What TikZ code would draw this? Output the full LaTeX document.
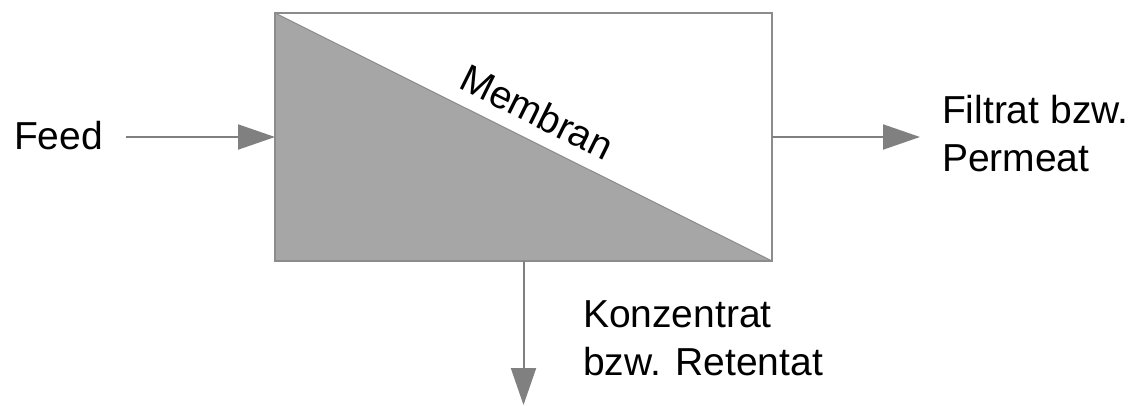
\documentclass[tikz,border=0pt]{standalone}
\usepackage{fontspec}
\setmainfont{Liberation Sans}
\usetikzlibrary{arrows.meta}
\definecolor{memfill}{HTML}{A6A6A6}
\definecolor{memline}{HTML}{8C8C8C}
\definecolor{arrcol}{HTML}{808080}
\begin{document}
\begin{tikzpicture}[x=1pt,y=-1pt,
  lbl/.style={inner sep=0pt, outer sep=0pt, align=left, font=\fontsize{39}{48}\selectfont},
  flow/.style={draw=memline, line width=2pt, -{Triangle[length=37pt,width=25pt,fill=arrcol]}, arrcol}]
\useasboundingbox (0,0) rectangle (1137,405);
\node[minimum width=497pt, minimum height=248pt, inner sep=0pt, outer sep=0pt, anchor=north west] (mem) at (275,13) {};
\fill[memfill] (mem.north west) -- (mem.south east) -- (mem.south west) -- cycle;
\draw[memline, line width=1pt] (mem.north west) -- (mem.south east);
\draw[memline, line width=2.5pt] (mem.north west) rectangle (mem.south east);
\node[lbl, anchor=base, rotate=-26.4] (memlbl) at (531,124.5) {Membran};
\node[lbl, anchor=base west] (feed) at (14,149) {Feed};
\coordinate (feedstart) at (126,137);
\draw[flow] (feedstart) -- (mem.west);
\coordinate (permend) at (920,137);
\draw[flow] (mem.east) -- (permend);
\node[lbl, anchor=base west] (perm) at (942,171) {Filtrat bzw.\\Permeat};
\coordinate (retend) at (mem.south |- 0,405);
\draw[flow] (mem.south) -- (retend);
\node[lbl, anchor=base west] (ret) at (583,375) {Konzentrat\\bzw. Retentat};
\end{tikzpicture}
\end{document}
